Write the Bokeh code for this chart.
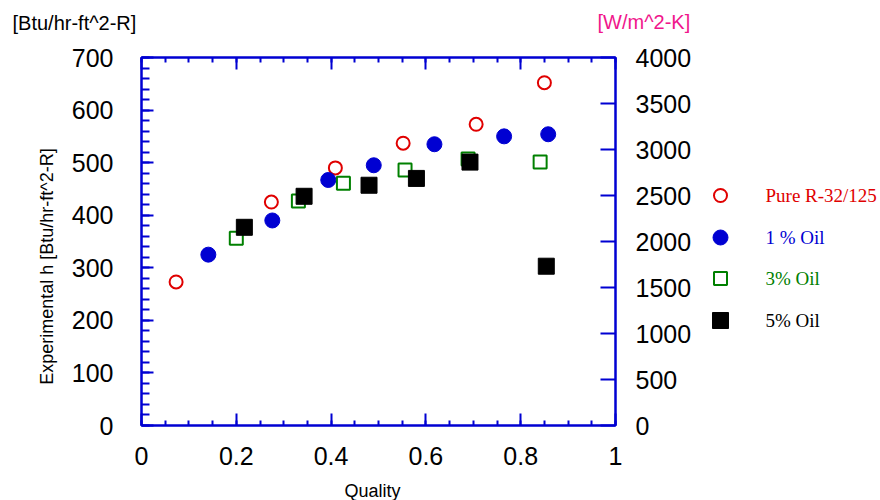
import numpy as np
from bokeh.plotting import figure
from bokeh.models import Range1d, LinearAxis, FixedTicker, CustomJSTickFormatter
from bokeh.layouts import row, column
from bokeh.core.properties import value
from bokeh.embed import file_html
from bokeh.resources import INLINE

# Heat transfer coefficient vs. vapour quality, R-32/125 with oil
quality_pure = [0.073, 0.274, 0.409, 0.552, 0.706, 0.850]
h_pure = [273, 425, 490, 537, 573, 652]

quality_oil1 = [0.141, 0.276, 0.394, 0.490, 0.618, 0.765, 0.858]
h_oil1 = [325, 390, 467, 495, 535, 550, 554]

quality_oil3 = [0.200, 0.331, 0.426, 0.556, 0.689, 0.841]
h_oil3 = [356, 427, 461, 486, 507, 501]

quality_oil5 = [0.217, 0.343, 0.480, 0.580, 0.693, 0.854]
h_oil5 = [377, 436, 457, 470, 501, 303]

series_labels = ["Pure R-32/125", "1 % Oil", "3% Oil", "5% Oil"]

x_ticks = [0, 0.2, 0.4, 0.6, 0.8, 1.0]
y_ticks = [0, 100, 200, 300, 400, 500, 600, 700]
y_si_ticks = [0, 500, 1000, 1500, 2000, 2500, 3000, 3500, 4000]

RED = "#e00000"
BLUE = "#0000d2"
GREEN = "#008000"
BLACK = "#000000"
PINK = "#f0168c"
AXIS = "#0000d2"
FONT = "Liberation Sans"

# page geometry (pixels)
PAGE_W, PAGE_H = 880, 500
CAP_H = 40                       # caption strip on top
BOT_H = 23                       # strip holding the x title
YLAB_W = 60                      # strip holding the rotated y title
MAIN_W, LEG_W = 640, 180
ROW_H = PAGE_H - CAP_H - BOT_H
B_LEFT, B_RIGHT, B_TOP, B_BOTTOM = 81, 85, 17, 52
FRAME_H = ROW_H - B_TOP - B_BOTTOM
Y0, Y1 = 0.0, 700.0


def strip(width, height, x_range, y_range, **kw):
    f = figure(width=width, height=height, x_range=x_range, y_range=y_range,
               output_backend="svg", toolbar_location=None,
               x_axis_location=None, y_axis_location=None, **kw)
    f.outline_line_color = None
    f.xgrid.visible = False
    f.ygrid.visible = False
    f.border_fill_color = "white"
    f.background_fill_color = "white"
    return f


# ---- main plot ----
p = figure(width=MAIN_W, height=ROW_H, x_range=Range1d(0, 1), y_range=Range1d(Y0, Y1),
           output_backend="svg", toolbar_location=None,
           x_axis_location=None, y_axis_location=None,
           min_border_left=B_LEFT, min_border_right=B_RIGHT,
           min_border_top=B_TOP, min_border_bottom=B_BOTTOM)
p.extra_y_ranges = {"si": Range1d(0, 4000)}
p.xgrid.visible = False
p.ygrid.visible = False
p.outline_line_color = AXIS
p.outline_line_width = 2
p.background_fill_color = "white"
p.border_fill_color = "white"


def style_axis(ax, tick_in, minor_in, standoff):
    ax.axis_line_color = AXIS
    ax.axis_line_width = 2
    ax.major_tick_line_color = AXIS
    ax.major_tick_line_width = 2
    ax.minor_tick_line_color = AXIS
    ax.minor_tick_line_width = 2
    ax.major_tick_in = tick_in
    ax.major_tick_out = 0
    ax.minor_tick_in = minor_in
    ax.minor_tick_out = 0
    ax.major_label_standoff = standoff
    ax.major_label_text_font = FONT
    ax.major_label_text_font_size = "25px"
    ax.major_label_text_color = "black"


x_minor = [round(v, 3) for v in np.arange(0, 1.0001, 0.05)]
fmt_x = CustomJSTickFormatter(code="return String(Math.round(tick * 10) / 10);")

bottom = LinearAxis(ticker=FixedTicker(ticks=x_ticks, minor_ticks=x_minor), formatter=fmt_x)
style_axis(bottom, 12, 5, 21)
p.add_layout(bottom, "below")

top = LinearAxis(ticker=FixedTicker(ticks=x_ticks, minor_ticks=x_minor),
                 formatter=CustomJSTickFormatter(code="return '';"))
style_axis(top, 12, 5, 0)
p.add_layout(top, "above")

y_minor = list(range(0, 701, 20))
left = LinearAxis(ticker=FixedTicker(ticks=y_ticks, minor_ticks=y_minor))
style_axis(left, 12, 8, 28)
p.add_layout(left, "left")

right = LinearAxis(y_range_name="si", ticker=FixedTicker(ticks=y_si_ticks, minor_ticks=[]))
style_axis(right, 15, 0, 20)
p.add_layout(right, "right")

# data points
p.scatter(quality_pure, h_pure, marker="circle", size=13, fill_color=None,
          line_color=RED, line_width=2)
p.scatter(quality_oil1, h_oil1, marker="circle", size=15, fill_color=BLUE,
          line_color=BLUE, line_width=1)
p.scatter(quality_oil3, h_oil3, marker="square", size=13, fill_color=None,
          line_color=GREEN, line_width=2)
p.scatter(quality_oil5, h_oil5, marker="square", size=16, fill_color=BLACK,
          line_color=BLACK, line_width=1)

# ---- rotated y title, sharing the main y scale ----
ylab = strip(YLAB_W, ROW_H, Range1d(0, YLAB_W), p.y_range, min_border_left=0,
             min_border_right=0, min_border_top=B_TOP, min_border_bottom=B_BOTTOM)
title_center_px = 266 - CAP_H                           # row-relative pixel
title_center = Y0 + (ROW_H - B_BOTTOM - title_center_px) / FRAME_H * (Y1 - Y0)
ylab.text(x=[46], y=[title_center], text=["Experimental h [Btu/hr-ft^2-R]"],
          angle=np.pi / 2, text_font=value(FONT), text_font_size="18px",
          text_color="black", text_align="center", text_baseline="middle")

# ---- legend panel (pixel coordinates of the row) ----
leg = strip(LEG_W, ROW_H, Range1d(0, LEG_W), Range1d(ROW_H - B_BOTTOM, B_TOP),
            min_border_left=0, min_border_right=0,
            min_border_top=B_TOP, min_border_bottom=B_BOTTOM)
row_y = [195 - CAP_H, 237 - CAP_H, 278 - CAP_H, 320 - CAP_H]
mark_x, text_x = 20, 65
leg_colors = [RED, BLUE, GREEN, BLACK]
leg.scatter([mark_x], [row_y[0]], marker="circle", size=13, fill_color=None,
            line_color=RED, line_width=2)
leg.scatter([mark_x], [row_y[1]], marker="circle", size=15, fill_color=BLUE,
            line_color=BLUE, line_width=1)
leg.scatter([mark_x], [row_y[2]], marker="square", size=13, fill_color=None,
            line_color=GREEN, line_width=2)
leg.scatter([mark_x], [row_y[3]], marker="square", size=16, fill_color=BLACK,
            line_color=BLACK, line_width=1)
leg.text(x=[text_x] * 4, y=row_y, text=series_labels, text_color=leg_colors,
         text_font=value("Liberation Serif"), text_font_size="19px",
         text_baseline="middle", text_align="left")

# ---- unit captions strip ----
cap = strip(PAGE_W, CAP_H, Range1d(0, PAGE_W), Range1d(CAP_H, 0), min_border=0)
cap.text(x=[12, 597], y=[22, 21], text=["[Btu/hr-ft^2-R]", "[W/m^2-K]"],
         text_color=["black", PINK], text_font=value(FONT), text_font_size="20px",
         text_align="left", text_baseline="middle")

# ---- x title strip ----
bot = strip(PAGE_W, BOT_H, Range1d(0, PAGE_W), Range1d(BOT_H, 0), min_border=0)
bot.text(x=[372], y=[490 - (PAGE_H - BOT_H)], text=["Quality"], text_color=["black"],
         text_font=value(FONT), text_font_size="18px",
         text_align="center", text_baseline="middle")

layout = column(cap, row(ylab, p, leg), bot)
open("out.html", "w").write(file_html(layout, INLINE))
